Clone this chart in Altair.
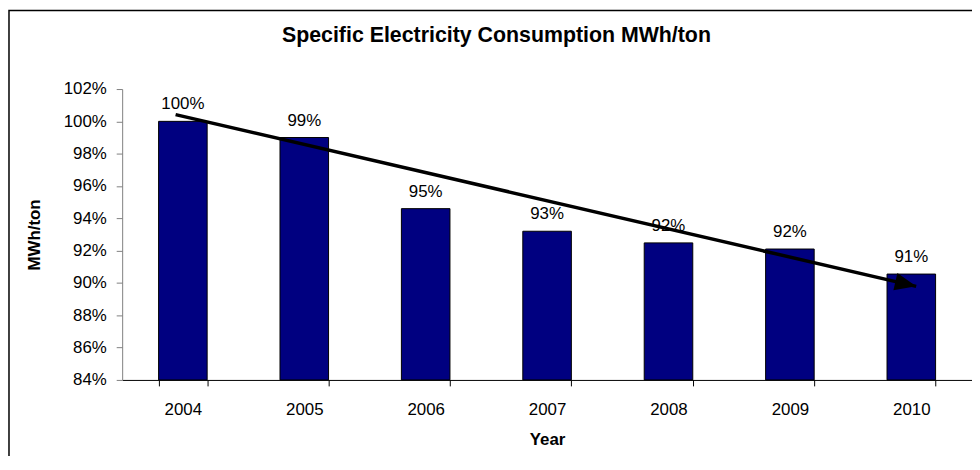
import altair as alt
import pandas as pd

TITLE = "Specific Electricity Consumption MWh/ton"
X_TITLE = "Year"
Y_TITLE = "MWh/ton"

years = ["2004", "2005", "2006", "2007", "2008", "2009", "2010"]
values = [1.000, 0.990, 0.946, 0.932, 0.9248, 0.921, 0.9055]

y_ticks = [0.84, 0.86, 0.88, 0.90, 0.92, 0.94, 0.96, 0.98, 1.00, 1.02]

# trend arrow (start, tip) in band units along the year axis and in share units
arrow_x = [0.44, 6.54]
arrow_y = [1.0042, 0.8979]

FONT = "Liberation Sans"
W, H = 856, 293

bars_df = pd.DataFrame({"Year": years, "value": values})
arrow_df = pd.DataFrame({"ax": arrow_x, "value": arrow_y})
head_df = arrow_df.tail(1)

y_enc = alt.Y(
    "value:Q",
    scale=alt.Scale(domain=[0.84, 1.02], nice=False, zero=False, clamp=True),
    axis=alt.Axis(
        values=y_ticks,
        format=".0%",
        title=Y_TITLE,
        grid=False,
        domainColor="#808080",
        tickColor="#808080",
        tickSize=6,
        labelPadding=10,
        labelFontSize=17,
        labelColor="black",
        titleFontSize=17,
        titleFontWeight="bold",
        titleColor="black",
        titleX=-88,
        titleBaseline="middle",
    ),
)

x_band = alt.X(
    "Year:N",
    sort=years,
    scale=alt.Scale(paddingInner=0.6, paddingOuter=0.3),
    axis=alt.Axis(
        title=X_TITLE,
        labelAngle=0,
        tickBand="extent",
        domainColor="black",
        tickColor="black",
        tickSize=6,
        labelPadding=16,
        labelFontSize=17,
        labelColor="black",
        titleFontSize=17,
        titleFontWeight="bold",
        titleColor="black",
        titleY=60,
        titleBaseline="middle",
        grid=False,
    ),
)

bars = alt.Chart(bars_df).mark_bar(
    color="#000080", stroke="black", strokeWidth=1
).encode(x=x_band, y=y_enc)

labels = alt.Chart(bars_df).mark_text(
    dy=-12, baseline="alphabetic", fontSize=17, color="black"
).encode(x=x_band, y=y_enc, text=alt.Text("value:Q", format=".0%"))

x_q = alt.X("ax:Q", scale=alt.Scale(domain=[0, 7], nice=False, zero=False), axis=None)

arrow_line = alt.Chart(arrow_df).mark_line(
    color="black", strokeWidth=3.5
).encode(x=x_q, y=y_enc)

arrow_head = alt.Chart(head_df).mark_point(
    shape="M0,0L-2,-0.83L-2,0.83Z",
    filled=True,
    color="black",
    opacity=1,
    size=460,
    angle=13,
).encode(x=x_q, y=y_enc)

border = alt.Chart(alt.Data(values=[{}])).mark_rect(
    fill="transparent", stroke="black", strokeWidth=1.5
).encode(
    x=alt.value(-114), x2=alt.value(W + 60), y=alt.value(-79), y2=alt.value(H + 120)
)

title = alt.Chart(alt.Data(values=[{}])).mark_text(
    fontSize=21.5, fontWeight="bold", align="center", baseline="alphabetic", color="black"
).encode(x=alt.value(377), y=alt.value(-47), text=alt.value(TITLE))

chart = (
    alt.layer(
        alt.layer(border, title, bars, labels),
        alt.layer(arrow_line, arrow_head),
    )
    .resolve_scale(x="independent")
    .properties(
        width=W,
        height=H,
        autosize=alt.AutoSizeParams(type="none"),
        padding={"left": 115, "top": 80, "right": 0, "bottom": 75},
        background="white",
    )
    .configure(font=FONT)
    .configure_view(strokeWidth=0)
)

chart.save("out.html", embed_options={"renderer": "svg", "actions": False})
